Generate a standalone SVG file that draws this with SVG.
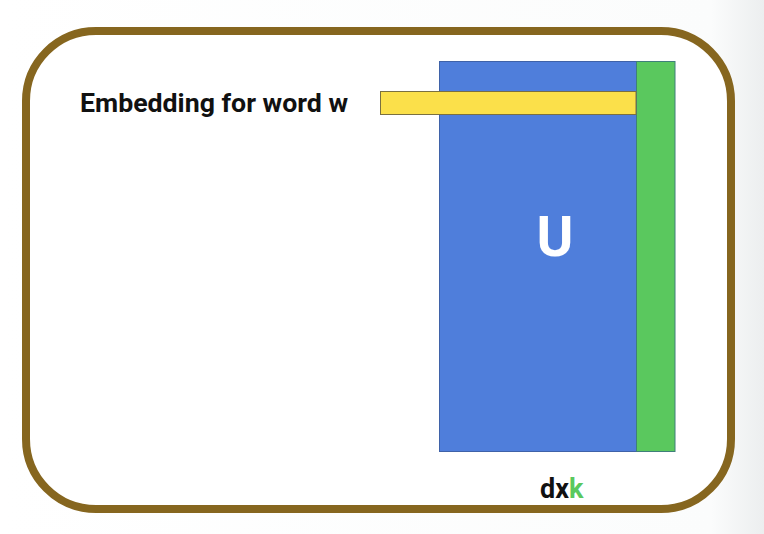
<svg xmlns="http://www.w3.org/2000/svg" width="764" height="534" viewBox="0 0 764 534">
  <defs>
    <linearGradient id="bg" x1="0" y1="0" x2="1" y2="0">
      <stop offset="0" stop-color="#ffffff"/>
      <stop offset="0.93" stop-color="#fbfcfc"/>
      <stop offset="1" stop-color="#eceeef"/>
    </linearGradient>
    <style>
      .lbl { font-family: Roboto, "Liberation Sans", sans-serif; font-weight: bold; fill: #111; }
    </style>
  </defs>
  <rect x="0" y="0" width="764" height="534" fill="url(#bg)"/>
  <rect id="frame" x="26" y="31" width="705" height="478" rx="70" ry="70" fill="#ffffff" stroke="#86661f" stroke-width="8"/>
  <g id="matrix-U">
    <rect x="439.5" y="61.5" width="197" height="390" fill="#4f7edb" stroke="#3f62a8" stroke-width="1"/>
    <text x="555" y="256" text-anchor="middle" font-family="Roboto, 'Liberation Sans', sans-serif" font-weight="bold" font-size="56" fill="#ffffff">U</text>
  </g>
  <g id="column-k">
    <rect x="636.5" y="61.5" width="38.5" height="390" fill="#5ac85e" stroke="#3f7f7a" stroke-width="1"/>
  </g>
  <g id="embedding-row">
    <rect x="380.5" y="91.5" width="255.5" height="23" fill="#fbe04a" stroke="#7a7040" stroke-width="1"/>
  </g>
  <g id="label-embedding">
    <text class="lbl" x="80" y="112" font-size="25.5" textLength="268" lengthAdjust="spacingAndGlyphs">Embedding for word w</text>
  </g>
  <g id="label-dxk">
    <text class="lbl" x="540" y="498" font-size="27">dx<tspan fill="#5ac85e">k</tspan></text>
  </g>
  <g id="connectors"/>
</svg>
